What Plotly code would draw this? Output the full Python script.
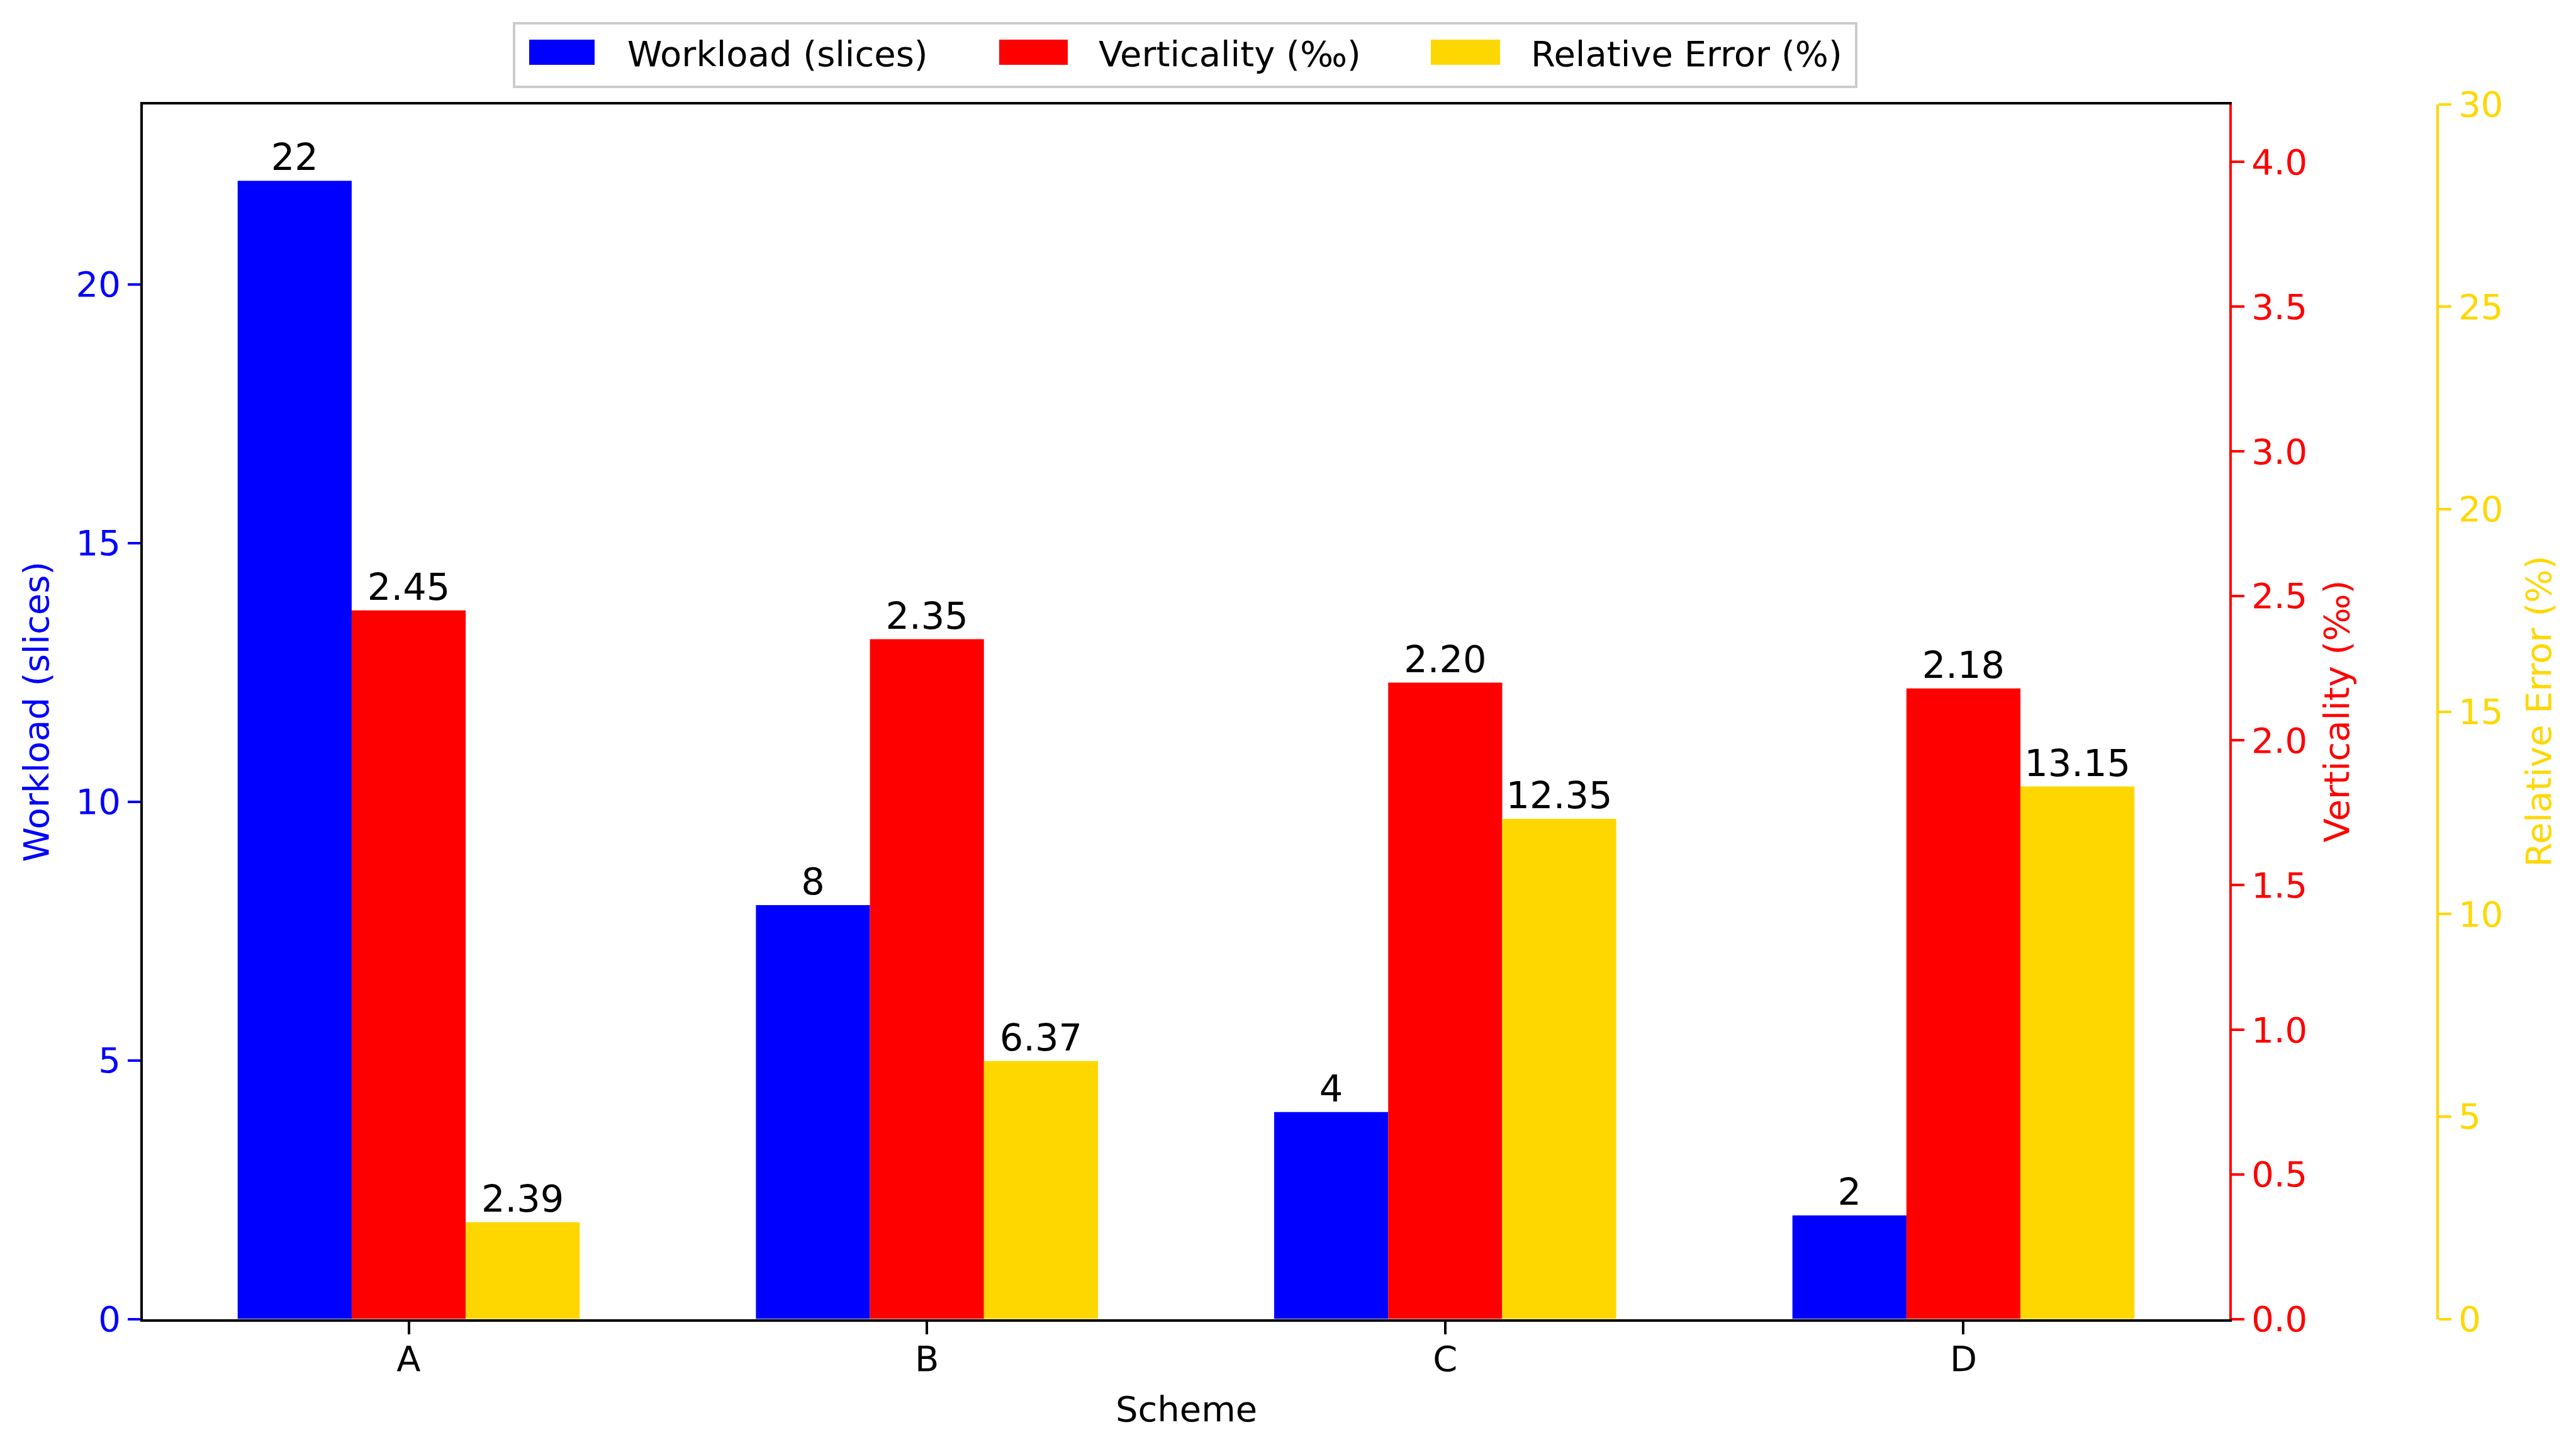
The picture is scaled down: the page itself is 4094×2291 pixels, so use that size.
import plotly.graph_objects as go

# ---- data ----
schemes = ["A", "B", "C", "D"]
workload = [22, 8, 4, 2]
verticality = [2.45, 2.35, 2.20, 2.18]
rel_error = [2.39, 6.37, 12.35, 13.15]

series_names = ["Workload (slices)", "Verticality (‰)", "Relative Error (%)"]
x_title = "Scheme"

# ---- styling ----
W, H = 4094, 2291
OFF = 8  # default page body margin
FW, FH = W - 2 * OFF, H - 2 * OFF
FONT = "DejaVu Sans"
BLUE, RED, GOLD = "#0000FF", "#FF0000", "#FFD700"
TICK_SIZE = 56
LABEL_SIZE = 59


def px_x(p):
    return (p - OFF) / FW


def px_y(p):
    return 1 - (p - OFF) / FH


plot_l, plot_r, plot_t, plot_b = 227.0, 3543.0, 165.5, 2095.5
third_axis_x = 3874.0

fig = go.Figure()

bar_w = 0.22
common = dict(width=bar_w, textposition="outside", constraintext="none",
              cliponaxis=False, marker_line_width=0,
              textfont=dict(family=FONT, size=LABEL_SIZE, color="black"))
fig.add_trace(go.Bar(x=schemes, y=workload, name=series_names[0], marker_color=BLUE,
                     offset=-1.5 * bar_w, yaxis="y", texttemplate="%{y}", **common))
fig.add_trace(go.Bar(x=schemes, y=verticality, name=series_names[1], marker_color=RED,
                     offset=-0.5 * bar_w, yaxis="y2", texttemplate="%{y:.2f}", **common))
fig.add_trace(go.Bar(x=schemes, y=rel_error, name=series_names[2], marker_color=GOLD,
                     offset=0.5 * bar_w, yaxis="y3", texttemplate="%{y:.2f}", **common))

dom_x = [px_x(plot_l), px_x(plot_r)]
dom_y = [px_y(plot_b), px_y(plot_t)]

axis_common = dict(showgrid=False, zeroline=False, showline=True, linewidth=4,
                   ticks="outside", ticklen=20, tickwidth=4, automargin=False)

fig.update_layout(
    width=FW, height=FH, autosize=False,
    margin=dict(l=0, r=0, t=0, b=0, pad=0),
    paper_bgcolor="white", plot_bgcolor="white",
    font=dict(family=FONT, size=TICK_SIZE, color="black"),
    showlegend=False,
    barmode="overlay",
    xaxis=dict(domain=dom_x, range=[-0.513, 3.513], type="category",
               linecolor="black", mirror=True, tickcolor="black",
               ticklabelstandoff=-9,
               tickfont=dict(family=FONT, size=TICK_SIZE, color="black"), **axis_common),
    yaxis=dict(domain=dom_y, range=[0, 23.48], dtick=5, tick0=0,
               linecolor="black", tickcolor=BLUE,
               tickfont=dict(family=FONT, size=TICK_SIZE, color=BLUE), **axis_common),
    yaxis2=dict(overlaying="y", side="right", anchor="x",
                range=[0, 4.2], dtick=0.5, tick0=0, tickformat=".1f",
                linecolor=RED, tickcolor=RED,
                tickfont=dict(family=FONT, size=TICK_SIZE, color=RED), **axis_common),
    yaxis3=dict(overlaying="y", side="right", anchor="free", position=px_x(third_axis_x),
                range=[0, 30], dtick=5, tick0=0,
                linecolor=GOLD, tickcolor=GOLD,
                tickfont=dict(family=FONT, size=TICK_SIZE, color=GOLD), **axis_common),
)

mid_y = px_y((plot_t + plot_b) / 2)
annotations = [
    dict(text=x_title, x=px_x((plot_l + plot_r) / 2), y=px_y(2238),
         xref="paper", yref="paper", xanchor="center", yanchor="middle",
         showarrow=False, font=dict(family=FONT, size=TICK_SIZE, color="black")),
    dict(text=series_names[0], x=px_x(57), y=mid_y,
         xref="paper", yref="paper", xanchor="center", yanchor="middle",
         textangle=-90, showarrow=False,
         font=dict(family=FONT, size=TICK_SIZE, color=BLUE)),
    dict(text=series_names[1], x=px_x(3713), y=mid_y,
         xref="paper", yref="paper", xanchor="center", yanchor="middle",
         textangle=-90, showarrow=False,
         font=dict(family=FONT, size=TICK_SIZE, color=RED)),
    dict(text=series_names[2], x=px_x(4034), y=mid_y,
         xref="paper", yref="paper", xanchor="center", yanchor="middle",
         textangle=-90, showarrow=False,
         font=dict(family=FONT, size=TICK_SIZE, color=GOLD)),
]

# custom legend (frame, swatches, labels)
shapes = [
    dict(type="rect", xref="paper", yref="paper",
         x0=px_x(817), x1=px_x(2950), y0=px_y(138), y1=px_y(37),
         line=dict(color="#cccccc", width=4), fillcolor="white", layer="above"),
]
legend_items = [
    (BLUE, 841, 945, 995),
    (RED, 1588, 1697, 1744),
    (GOLD, 2274, 2384, 2431),
]
for (col, sx0, sx1, tx), name in zip(legend_items, series_names):
    shapes.append(dict(type="rect", xref="paper", yref="paper",
                       x0=px_x(sx0), x1=px_x(sx1), y0=px_y(103), y1=px_y(63),
                       line=dict(width=0), fillcolor=col, layer="above"))
    annotations.append(dict(text=name, x=px_x(tx), y=px_y(86),
                            xref="paper", yref="paper", xanchor="left", yanchor="middle",
                            showarrow=False,
                            font=dict(family=FONT, size=TICK_SIZE, color="black")))

fig.update_layout(annotations=annotations, shapes=shapes)

fig.write_html("out.html")
